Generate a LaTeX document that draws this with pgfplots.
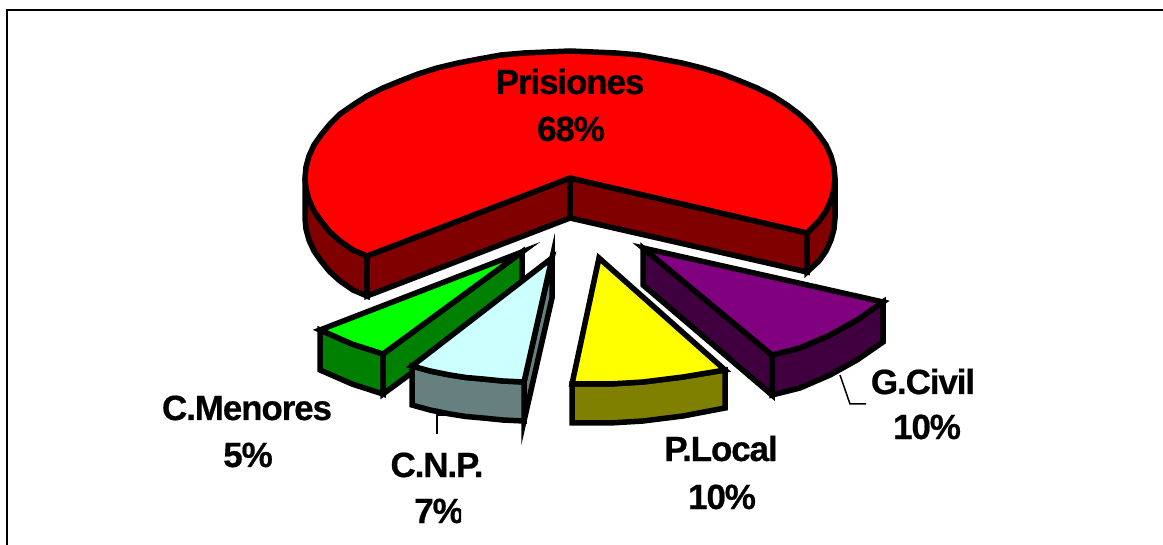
\documentclass[border=0pt]{standalone}
\usepackage{pgfplots}
\pgfplotsset{compat=1.18}
\usepackage{fontspec}
\setmainfont{Liberation Sans}[BoldFeatures={LetterSpace=-3.2,FakeBold=0.6}]
\definecolor{redtop}{HTML}{FF0000}
\definecolor{redside}{HTML}{800000}
\definecolor{greentop}{HTML}{00FF00}
\definecolor{greenside}{HTML}{008000}
\definecolor{cyantop}{HTML}{CCFFFF}
\definecolor{cyanside}{HTML}{668080}
\definecolor{yellowtop}{HTML}{FFFF00}
\definecolor{yellowside}{HTML}{808000}
\definecolor{purpletop}{HTML}{800080}
\definecolor{purpleside}{HTML}{400040}
\pgfplotsset{
	slice/.style={draw=black, line width=5.5pt, line join=miter, miter limit=10, mark=none, fill=#1, forget plot},
}
\tikzset{
	lab/.style={anchor=base, inner sep=0pt, font=\fontsize{35}{35}\selectfont\bfseries},
}
\begin{document}
\begin{tikzpicture}
\begin{axis}[
	width=1163pt, height=545pt, scale only axis,
	xmin=0, xmax=1163, ymin=0, ymax=545, y dir=reverse,
	hide axis, clip=false,
]
\path[use as bounding box] (axis cs:0,0) rectangle (axis cs:1163,545);
% frame, open on the right and at the bottom
\addplot[black, line width=2pt, mark=none, forget plot] coordinates {(6.5,545) (6.5,10) (1163,10)};

% Prisiones 68
\addplot[slice=redside] coordinates {(305,178) (306,189) (309,200) (314,211) (321,221) (330,232) (340,241) (353,250) (367,256) (367,296) (353,290) (340,281) (330,272) (321,261) (314,251) (309,240) (306,229) (305,218)} --cycle;
\addplot[slice=redside] coordinates {(807,233) (819,221) (826,211) (831,200) (834,189) (835,178) (835,218) (834,229) (831,240) (826,251) (819,261) (807,272)} --cycle;
\addplot[slice=redside] coordinates {(570,178) (367,256) (367,296) (570,218)} --cycle;
\addplot[slice=redside] coordinates {(570,178) (807,233) (807,272) (570,218)} --cycle;
\addplot[slice=redtop] coordinates {(570,178) (807,233) (819,221) (826,211) (831,200) (834,189) (835,178) (834,167) (831,156) (826,145) (819,135) (810,124) (799,114) (787,105) (773,96) (757,88) (740,81) (722,74) (702,68) (682,63) (661,59) (639,55) (616,53) (593,52) (570,51) (547,52) (524,53) (501,55) (479,59) (458,63) (437,68) (418,74) (400,81) (383,88) (367,96) (353,105) (340,114) (330,124) (321,135) (314,145) (309,156) (306,167) (305,178) (306,189) (309,200) (314,211) (321,221) (330,232) (340,241) (353,250) (367,256)} --cycle;

% C.Menores 5
\addplot[slice=greenside] coordinates {(320,330) (352,344) (383,354) (383,394) (352,384) (320,370)} --cycle;
\addplot[slice=greenside] coordinates {(522,252) (383,354) (383,394) (522,292)} --cycle;
\addplot[slice=greentop] coordinates {(522,252) (320,330) (352,344) (383,354)} --cycle;

% C.N.P. 7
\addplot[black, line width=1.5pt, mark=none, forget plot] coordinates {(437,434) (437,415) (462,415)};
\addplot[slice=cyanside] coordinates {(552,258) (524,382) (524,421) (552,298)} --cycle;
\addplot[slice=cyanside] coordinates {(412,366) (430,371) (450,375) (466,377.5) (483,379) (503,381) (524,382) (524,421) (503,420) (483,418) (466,416.5) (450,414) (430,410) (412,405)} --cycle;
\addplot[slice=cyantop] coordinates {(552,258) (412,366) (430,371) (450,375) (466,377.5) (483,379) (503,381) (524,382)} --cycle;

% P.Local 10
\addplot[slice=yellowside] coordinates {(572,384) (610,384) (643,382) (683,377) (725,370) (725,408) (683,416) (643,421) (610,423) (572,423)} --cycle;
\addplot[slice=yellowtop] coordinates {(599,258) (572,384) (610,384) (643,382) (683,377) (725,370)} --cycle;

% G.Civil 10
\addplot[black, line width=1.5pt, mark=none, forget plot] coordinates {(840,375) (850,404) (866,404)};
\addplot[slice=purpleside] coordinates {(643,248) (772,355) (772,395) (643,285)} --cycle;
\addplot[slice=purpleside] coordinates {(772,355) (800,348) (830,335) (857,320) (883,302) (883,342) (857,360) (830,375) (800,388) (772,395)} --cycle;
\addplot[slice=purpletop] coordinates {(643,248) (883,302) (857,320) (830,335) (800,348) (772,355)} --cycle;

\node[lab] at (axis cs:570,94) {Prisiones};
\node[lab] at (axis cs:571,141) {68\%};
\node[lab] at (axis cs:247,420) {C.Menores};
\node[lab] at (axis cs:248,467) {5\%};
\node[lab] at (axis cs:437,477) {C.N.P.};
% the percent sign is cut off in the original
\begin{scope}
\clip (axis cs:400,490) rectangle (axis cs:461,535);
\node[lab] at (axis cs:439,523) {7\%};
\end{scope}
\node[lab] at (axis cs:721,461) {P.Local};
\node[lab] at (axis cs:722,509) {10\%};
\node[lab] at (axis cs:923,394) {G.Civil};
\node[lab] at (axis cs:927,439) {10\%};
\end{axis}
\end{tikzpicture}
\end{document}
